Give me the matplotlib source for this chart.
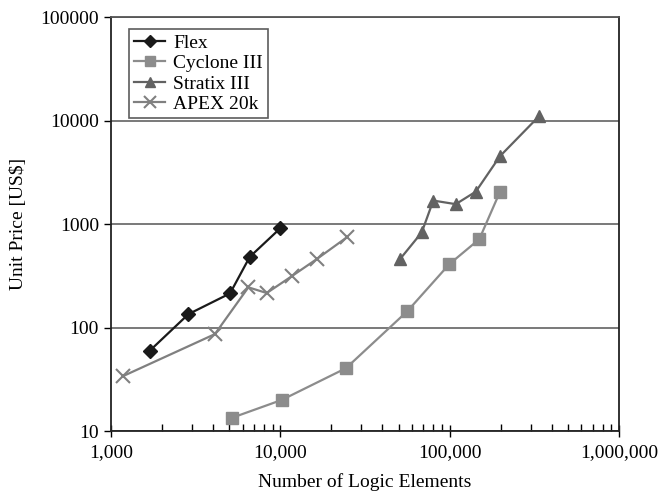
import matplotlib.pyplot as plt
from matplotlib.ticker import FuncFormatter, LogLocator, NullLocator, NullFormatter

plt.rcParams["font.family"] = ["Liberation Serif", "DejaVu Serif"]

# Number of logic elements vs unit price [US$]
flex_le = [1700, 2870, 5050, 6600, 10000]
flex_price = [60, 135, 214, 482, 912]

cyclone_le = [5160, 10200, 24400, 56200, 99600, 149600, 198000]
cyclone_price = [13.4, 20, 40.5, 144, 411, 716, 2050]

stratix_le = [50900, 68400, 80000, 108600, 142600, 198000, 338000]
stratix_price = [459, 832, 1690, 1560, 2060, 4530, 11100]

apex_le = [1180, 4110, 6480, 8320, 11660, 16400, 24660]
apex_price = [34, 86.5, 245, 216, 313, 459, 744]

fig = plt.figure(figsize=(6.6, 4.91), dpi=100)
ax = fig.add_axes([0.168, 0.122, 0.770, 0.843])

ax.plot(flex_le, flex_price, color="#1a1a1a", marker="D", markersize=7,
        linewidth=1.6, label="Flex")
ax.plot(cyclone_le, cyclone_price, color="#8c8c8c", marker="s", markersize=8,
        linewidth=1.6, label="Cyclone III")
ax.plot(stratix_le, stratix_price, color="#626262", marker="^", markersize=9,
        linewidth=1.6, label="Stratix III")
ax.plot(apex_le, apex_price, color="#808080", marker="x", markersize=10,
        markeredgewidth=1.5, linewidth=1.6, label="APEX 20k")

ax.set_xscale("log")
ax.set_yscale("log")
ax.set_xlim(1000, 1000000)
ax.set_ylim(10, 100000)

ax.xaxis.set_major_locator(LogLocator(base=10))
ax.xaxis.set_minor_locator(LogLocator(base=10, subs=range(2, 10)))
ax.xaxis.set_major_formatter(FuncFormatter(lambda v, p: f"{int(round(v)):,}"))
ax.xaxis.set_minor_formatter(NullFormatter())
ax.yaxis.set_major_locator(LogLocator(base=10))
ax.yaxis.set_minor_locator(NullLocator())
ax.yaxis.set_major_formatter(FuncFormatter(lambda v, p: f"{int(round(v))}"))

ax.tick_params(axis="x", which="major", direction="inout", length=8, width=1,
               labelsize=14, pad=5)
ax.tick_params(axis="x", which="minor", direction="in", length=5, width=1)
ax.tick_params(axis="y", which="major", direction="out", length=5, width=1,
               labelsize=14)

ax.grid(True, axis="y", which="major", color="#555555", linewidth=1.1)
ax.set_axisbelow(True)
for s in ax.spines.values():
    s.set_linewidth(1.3)
    s.set_color("#222222")
ax.spines["top"].set_color("#555555")

ax.set_xlabel("Number of Logic Elements", fontsize=14, labelpad=9)
ax.set_ylabel("Unit Price [US$]", fontsize=14, labelpad=10)

leg = ax.legend(loc="upper left", bbox_to_anchor=(0.025, 0.985), fontsize=14,
                frameon=True, fancybox=False, edgecolor="#333333",
                handlelength=1.6, handletextpad=0.4, borderpad=0.25,
                labelspacing=0.15, borderaxespad=0.3, markerscale=0.85)
leg.get_frame().set_linewidth(1.2)

fig.savefig("out.png", dpi=100)
